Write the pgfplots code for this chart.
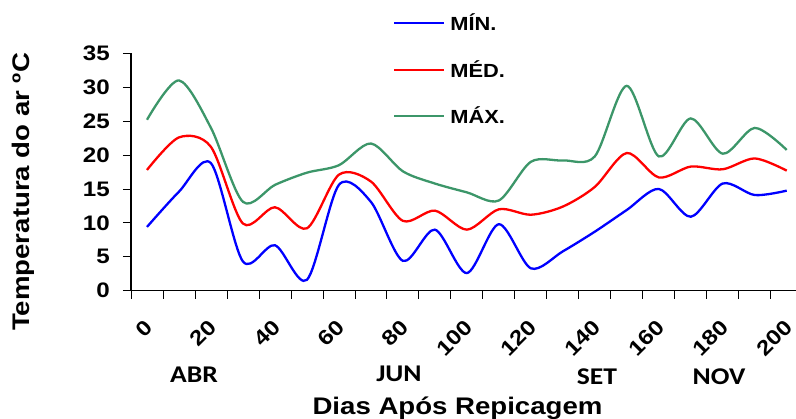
\documentclass[border=0pt]{standalone}
\usepackage{fontspec}
\setmainfont{Liberation Sans}[FakeStretch=1.15]
\newfontfamily\monthfont{Carlito}[FakeStretch=1.15]
\usepackage{pgfplots}
\usepackage{pgfplotstable}
\pgfplotsset{compat=1.18}
\definecolor{cmin}{RGB}{0,0,255}
\definecolor{cmed}{RGB}{255,0,0}
\definecolor{cmax}{RGB}{60,150,105}

\pgfplotstableread{
d t
0 9.4
10 14.6
20 18.8
30 4.3
40 6.7
50 1.6
60 15.6
70 13.1
80 4.4
90 9.0
100 2.6
110 9.8
120 3.3
130 5.8
140 8.7
150 11.9
160 15.0
170 10.9
180 15.8
190 14.1
200 14.75
}\tmin

\pgfplotstableread{
d t
0 17.8
10 22.6
20 21.2
30 9.9
40 12.3
50 9.2
60 17.1
70 16.1
80 10.3
90 11.8
100 9.0
110 12.0
120 11.2
130 12.4
140 15.3
150 20.3
160 16.7
170 18.3
180 17.9
190 19.5
200 17.7
}\tmed

\pgfplotstableread{
d t
0 25.2
10 31.0
20 24.0
30 13.1
40 15.6
50 17.4
60 18.5
70 21.7
80 17.6
90 15.8
100 14.5
110 13.3
120 19.0
130 19.2
140 19.8
150 30.2
160 19.8
170 25.4
180 20.2
190 24.0
200 20.75
}\tmax

\begin{document}
\begin{tikzpicture}[x=1pt,y=1pt]
\useasboundingbox (0,0) rectangle (796,419);
\begin{axis}[
  at={(131pt,128.3pt)}, anchor=south west,
  scale only axis, width=665pt, height=237.4pt,
  xmin=-5, xmax=202.9, ymin=0, ymax=35,
  axis lines*=left,
  axis line style={line width=1.3pt, black, -},
  xtick={-5,5,...,195}, xticklabels={},
  extra x ticks={0,20,...,200},
  extra x tick labels={0,20,40,60,80,100,120,140,160,180,200},
  extra x tick style={major tick length=0pt,
    xticklabel style={xshift=2pt, yshift=-33pt, rotate=45, anchor=east, inner sep=0pt}},
  ytick={0,5,...,35},
  tick align=outside, major tick length=8pt,
  tick style={line width=0.8pt, black},
  /pgf/number format/assume math mode=true,
  tick label style={font=\bfseries\fontsize{21}{21}\selectfont},
  yticklabel style={inner sep=0pt, xshift=-13pt},
  xlabel={Dias Após Repicagem},
  xlabel style={at={(axis description cs:0.491,-0.5236)}, anchor=base,
    font=\bfseries\fontsize{24}{24}\selectfont, inner sep=0pt},
  ylabel={Temperatura do ar ºC},
  ylabel style={at={(axis description cs:-0.1624,0.4158)}, anchor=center,
    font=\bfseries\fontsize{24}{24}\selectfont, inner sep=0pt},
  legend style={at={(axis description cs:0.394,1.166)}, anchor=north west,
    draw=none, fill=none, inner sep=0pt, outer sep=0pt,
    row sep=28.3pt, column sep=5pt,
    font=\bfseries\fontsize{19}{19}\selectfont,
    nodes={inner sep=0pt}},
  legend cell align=left,
  legend image code/.code={\draw[#1] (0pt,0pt) -- (50pt,0pt);},
  clip=false,
]
\addplot[cmin, line width=2.3pt, smooth] table[x=d,y=t]{\tmin};
\addlegendentry{MÍN.}
\addplot[cmed, line width=2.3pt, smooth] table[x=d,y=t]{\tmed};
\addlegendentry{MÉD.}
\addplot[cmax, line width=2.3pt, smooth] table[x=d,y=t]{\tmax};
\addlegendentry{MÁX.}
\end{axis}
\begin{scope}[font=\monthfont\bfseries\fontsize{24}{24}\selectfont]
\node[anchor=base, inner sep=0pt] at (194,36) {ABR};
\node[anchor=base, inner sep=0pt] at (399,37) {JUN};
\node[anchor=base, inner sep=0pt] at (597,34) {SET};
\node[anchor=base, inner sep=0pt] at (719,34) {NOV};
\end{scope}
\end{tikzpicture}
\end{document}
